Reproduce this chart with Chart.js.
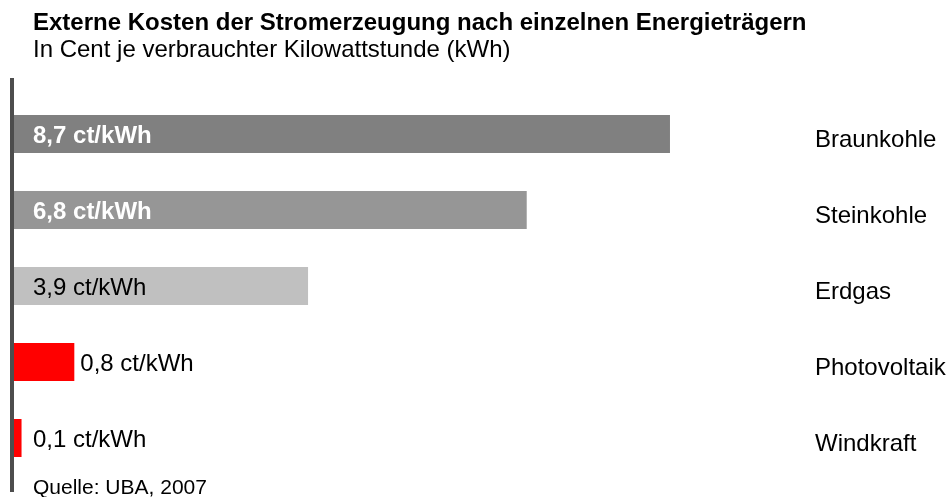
<!DOCTYPE html>
<html>
<head>
<meta charset="utf-8">
<script src="https://cdn.jsdelivr.net/npm/chart.js@4"></script>
<style>
  html, body { margin: 0; padding: 0; background: #fff; }
  #wrap { position: relative; width: 947px; height: 497px; font-family: "Liberation Sans", Arial, sans-serif; }
  .txt { position: absolute; left: 33px; white-space: nowrap; color: #000; }
  #title { top: 10px; font-size: 24px; line-height: 24px; font-weight: bold; }
  #subtitle { top: 37px; font-size: 24px; line-height: 24px; }
  #source { top: 476px; font-size: 21px; line-height: 22px; }
</style>
</head>
<body>
<div id="wrap">
  <canvas id="chart" width="947" height="497"></canvas>
  <div class="txt" id="title">Externe Kosten der Stromerzeugung nach einzelnen Energieträgern</div>
  <div class="txt" id="subtitle">In Cent je verbrauchter Kilowattstunde (kWh)</div>
  <div class="txt" id="source">Quelle: UBA, 2007</div>
</div>
<script>
const categories = ['Braunkohle', 'Steinkohle', 'Erdgas', 'Photovoltaik', 'Windkraft'];
const costs = [8.7, 6.8, 3.9, 0.8, 0.1];
const valueLabels = ['8,7 ct/kWh', '6,8 ct/kWh', '3,9 ct/kWh', '0,8 ct/kWh', '0,1 ct/kWh'];
const barColors = ['#808080', '#969696', '#c0c0c0', '#ff0000', '#ff0000'];

const FONT = '"Liberation Sans", Arial, sans-serif';

// value labels inside the bar, or right of it when the bar is too short
const valueLabelPlugin = {
  id: 'valueLabels',
  afterDatasetsDraw(chart) {
    const ctx = chart.ctx;
    const meta = chart.getDatasetMeta(0);
    ctx.save();
    ctx.textBaseline = 'middle';
    ctx.textAlign = 'left';
    meta.data.forEach((bar, i) => {
      const dark = i < 2;
      ctx.font = (dark ? 'bold ' : '') + '24px ' + FONT;
      ctx.fillStyle = dark ? '#ffffff' : '#000000';
      const inside = bar.x - bar.base > 150;
      const x = inside ? 33 : Math.max(33, bar.x + 6);
      ctx.fillText(valueLabels[i], x, bar.y + 2);
    });
    ctx.restore();
  }
};

// thick vertical base line at zero
const baseLinePlugin = {
  id: 'baseLine',
  afterDraw(chart) {
    const ctx = chart.ctx;
    const x0 = chart.scales.x.getPixelForValue(0);
    ctx.save();
    ctx.fillStyle = '#4d4d4d';
    ctx.fillRect(x0 - 4, chart.chartArea.top - 18, 4, chart.chartArea.bottom - chart.chartArea.top + 34);
    ctx.restore();
  }
};

new Chart(document.getElementById('chart'), {
  type: 'bar',
  data: {
    labels: categories,
    datasets: [{
      data: costs,
      backgroundColor: barColors,
      borderWidth: 0,
      barPercentage: 0.5,
      categoryPercentage: 1
    }]
  },
  options: {
    indexAxis: 'y',
    responsive: false,
    animation: false,
    layout: { padding: { left: 14, top: 96, bottom: 21, right: 0 } },
    plugins: {
      legend: { display: false },
      tooltip: { enabled: false }
    },
    scales: {
      x: {
        display: false,
        min: 0,
        max: 10
      },
      y: {
        position: 'right',
        grid: { display: false },
        border: { display: false },
        ticks: {
          color: '#000',
          padding: 39,
          labelOffset: 6,
          font: { family: FONT, size: 24 }
        },
        afterFit(scale) {
          scale.width = 179;
          scale.paddingTop = 0;
          scale.paddingBottom = 0;
        }
      }
    }
  },
  plugins: [valueLabelPlugin, baseLinePlugin]
});
</script>
</body>
</html>
